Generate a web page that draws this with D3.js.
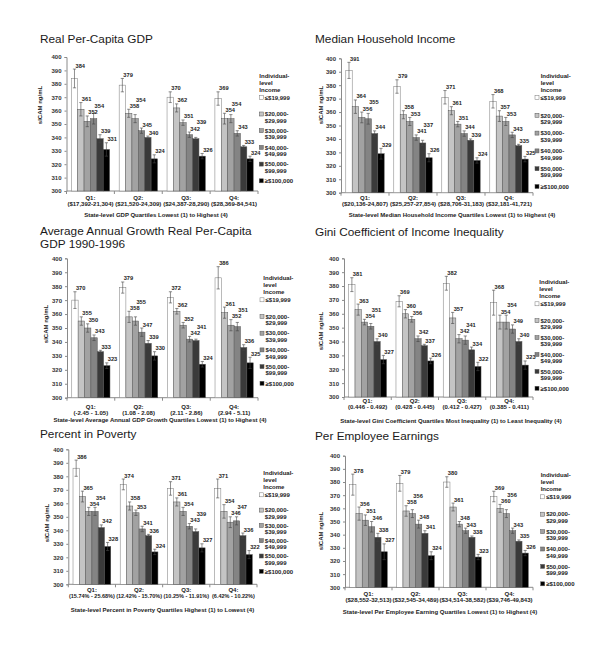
<!DOCTYPE html>
<html>
<head>
<meta charset="utf-8">
<script src="https://cdn.jsdelivr.net/npm/d3@7"></script>
<style>
  body { margin: 0; background: #fff; }
  svg { display: block; font-family: "Liberation Sans", Arial, sans-serif; }
</style>
</head>
<body>
<svg id="chart" width="600" height="649"></svg>
<script>
// shared labels
var quartiles = ['Q1:', 'Q2:', 'Q3:', 'Q4:'];
var incomeLabels = [['≤$19,999'], ['$20,000-', '$29,999'], ['$30,000-', '$39,999'],
                    ['$40,000-', '$49,999'], ['$50,000-', '$99,999'], ['≥$100,000']];
var legendHeader = ['Individual-', 'level', 'Income'];
var yTicks = [300, 310, 320, 330, 340, 350, 360, 370, 380, 390, 400];
var yTitle = 'sICAM ng/mL';

// Real per-capita GDP
var gdpRanges = ['($17,392-21,304)', '($21,520-24,309)', '($24,387-28,290)', '($28,369-84,541)'];
var gdpMeans = [[384, 361, 352, 354, 339, 331], [379, 358, 354, 345, 340, 324],
                [370, 362, 351, 342, 339, 326], [369, 354, 354, 343, 333, 324]];
var gdpErrors = [[7, 5, 4, 4, 3, 5], [5, 3, 3, 2, 1, 3], [4, 3, 2, 2, 1, 2], [5, 4, 3, 2, 1, 2]];

// Median household income
var incomeRanges = ['($20,136-24,807)', '($25,257-27,854)', '($28,706-31,183)', '($32,181-41,721)'];
var incomeMeans = [[391, 364, 356, 355, 344, 329], [379, 358, 353, 341, 337, 326],
                   [371, 361, 351, 344, 339, 324], [368, 357, 353, 343, 335, 325]];
var incomeErrors = [[6, 5, 4, 4, 2, 4], [5, 3, 3, 2, 2, 3], [5, 3, 2, 2, 1, 2], [5, 4, 3, 2, 1, 2]];

// Average annual growth
var growthRanges = ['(-2.45 - 1.05)', '(1.08 - 2.08)', '(2.11 - 2.86)', '(2.94 - 5.11)'];
var growthMeans = [[370, 355, 350, 343, 333, 323], [379, 358, 355, 347, 339, 330],
                   [372, 362, 352, 342, 341, 324], [386, 361, 352, 351, 336, 325]];
var growthErrors = [[6, 3, 3, 2, 1, 2], [4, 4, 3, 3, 2, 3], [4, 2, 2, 2, 1, 2], [8, 4, 4, 3, 2, 4]];

// Gini coefficient
var giniRanges = ['(0.446 - 0.492)', '(0.428 - 0.445)', '(0.412 - 0.427)', '(0.385 - 0.411)'];
var giniMeans = [[381, 363, 354, 351, 340, 327], [369, 360, 356, 342, 337, 326],
                 [382, 357, 342, 341, 334, 322], [368, 354, 354, 349, 340, 323]];
var giniErrors = [[5, 4, 2, 2, 2, 3], [4, 3, 2, 2, 1, 2], [5, 4, 3, 3, 2, 3], [9, 5, 5, 3, 2, 3]];

// Percent in poverty
var povertyRanges = ['(15.74% - 25.68%)', '(12.42% - 15.70%)', '(10.25% - 11.91%)', '(6.42% - 10.22%)'];
var povertyMeans = [[386, 365, 354, 354, 342, 328], [374, 358, 353, 341, 336, 324],
                    [371, 361, 354, 343, 339, 327], [371, 354, 346, 347, 336, 322]];
var povertyErrors = [[6, 4, 3, 3, 2, 3], [4, 3, 2, 2, 1, 2], [5, 3, 3, 2, 2, 3], [7, 5, 4, 3, 2, 3]];

// Per employee earnings
var earningsRanges = ['($28,552-32,513)', '($32,545-34,489)', '($34,514-38,582)', '($39,746-49,843)'];
var earningsMeans = [[378, 356, 351, 346, 338, 327], [379, 358, 356, 348, 341, 324],
                     [380, 361, 348, 343, 338, 323], [369, 360, 356, 343, 335, 326]];
var earningsErrors = [[8, 5, 4, 4, 3, 6], [6, 4, 3, 3, 2, 3], [4, 3, 2, 2, 1, 2], [4, 3, 3, 2, 1, 2]];

var barColors = ['#ffffff', '#c4c4c4', '#a2a2a2', '#848484', '#3a3a3a', '#000000'];

var panels = [
  {title: ['Real Per-Capita GDP'], tx: 40, ty: 42.7,
   ranges: gdpRanges, means: gdpMeans, errors: gdpErrors,
   xlabel: 'State-level GDP Quartiles Lowest (1) to Highest (4)',
   x0: 66.5, x1: 258, yTop: 57, yBot: 191, ylabX: 40, ylabY: 105, catSize: 6,
   catY: 199.5, xlabX: 156, xlabY: 217, legX: 259.3, legSwX: 259.3, legY: 99.5, legStep: 16.7},
  {title: ['Median Household Income'], tx: 315, ty: 43,
   ranges: incomeRanges, means: incomeMeans, errors: incomeErrors,
   xlabel: 'State-level Median Household Income Quartiles Lowest (1) to Highest (4)',
   x0: 341, x1: 533, yTop: 58.3, yBot: 192.7, ylabX: 321, ylabY: 105, catSize: 6,
   catY: 199.5, xlabX: 452, xlabY: 217, legX: 540.7, legSwX: 535, legY: 99.7, legStep: 17.8},
  {title: ['Average Annual Growth Real Per-Capita', 'GDP 1990-1996'], tx: 40, ty: 234.5,
   ranges: growthRanges, means: growthMeans, errors: growthErrors,
   xlabel: 'State-level Average Annual GDP Growth Quartiles Lowest (1) to Highest (4)',
   x0: 67, x1: 258, yTop: 258.3, yBot: 397.7, ylabX: 46, ylabY: 324, catSize: 6,
   catY: 409, xlabX: 160, xlabY: 422, legX: 263.3, legSwX: 260, legY: 302, legStep: 16.7},
  {title: ['Gini Coefficient of Income Inequality'], tx: 315, ty: 236,
   ranges: giniRanges, means: giniMeans, errors: giniErrors,
   xlabel: 'State-level Gini Coefficient Quartiles Most Inequality (1) to Least Inequality (4)',
   x0: 344, x1: 533, yTop: 258.3, yBot: 397, ylabX: 321, ylabY: 331, catSize: 6,
   catY: 403, xlabX: 451, xlabY: 423, legX: 539.3, legSwX: 535, legY: 306, legStep: 16.9},
  {title: ['Percent in Poverty'], tx: 40, ty: 438,
   ranges: povertyRanges, means: povertyMeans, errors: povertyErrors,
   xlabel: 'State-level Percent in Poverty Quartiles Highest (1) to Lowest (4)',
   x0: 68.3, x1: 257, yTop: 449.3, yBot: 584.3, ylabX: 46.7, ylabY: 523, catSize: 5.5,
   catY: 592, xlabX: 162.5, xlabY: 612, legX: 263.3, legSwX: 259.3, legY: 497, legStep: 15.3},
  {title: ['Per Employee Earnings'], tx: 315, ty: 439.5,
   ranges: earningsRanges, means: earningsMeans, errors: earningsErrors,
   xlabel: 'State-level Per Employee Earning Quartiles Lowest (1) to Highest (4)',
   x0: 345, x1: 533, yTop: 455.7, yBot: 587.3, ylabX: 320.7, ylabY: 531, catSize: 6,
   catY: 595.5, xlabX: 440, xlabY: 614, legX: 540.7, legSwX: 540.7, legY: 499, legStep: 17.4}
];

var svg = d3.select('#chart');
var small = 6;
var valSize = 5.7;

function drawPanel(p) {
  var g = svg.append('g');

  // title
  g.append('text')
      .attr('x', p.tx)
      .attr('y', p.ty)
      .attr('font-size', 11.8)
      .attr('fill', '#1a1a1a')
    .selectAll('tspan')
    .data(p.title)
    .enter().append('tspan')
      .attr('x', p.tx)
      .attr('dy', function(d, i) { return i === 0 ? 0 : 13.6; })
      .text(function(d) { return d; });

  // scales
  var y = d3.scaleLinear().domain([300, 400]).range([p.yBot, p.yTop]);
  var x = d3.scaleBand().domain(quartiles).range([p.x0, p.x1])
      .paddingInner(0.2).paddingOuter(0.1);
  var xi = d3.scaleBand().domain(d3.range(6)).range([0, x.bandwidth()]);

  // y axis
  var yAxis = g.append('g')
      .attr('transform', 'translate(' + p.x0 + ',0)')
      .call(d3.axisLeft(y).tickValues(yTicks).tickSize(2).tickPadding(3));
  yAxis.select('.domain').attr('stroke', '#8a8a8a');
  yAxis.selectAll('.tick line').attr('stroke', '#8a8a8a');
  yAxis.selectAll('.tick text')
      .attr('font-size', small)
      .attr('font-weight', 'bold')
      .attr('font-family', '"Liberation Sans", Arial, sans-serif')
      .attr('fill', '#333');

  // y title
  g.append('text')
      .attr('transform', 'translate(' + (p.ylabX + 2) + ',' + p.ylabY + ') rotate(-90)')
      .attr('text-anchor', 'middle')
      .attr('font-size', small)
      .attr('font-weight', 'bold')
      .attr('fill', '#222')
      .text(yTitle);

  // x axis line + boundary ticks
  var step = x.step();
  var bounds = d3.range(5).map(function(i) {
    return i < 4 ? x(quartiles[i]) - step * x.paddingOuter() : p.x1;
  });
  g.append('line')
      .attr('x1', p.x0).attr('x2', p.x1)
      .attr('y1', p.yBot).attr('y2', p.yBot)
      .attr('stroke', '#8a8a8a');
  g.selectAll('.xtick')
    .data(bounds)
    .enter().append('line')
      .attr('x1', function(d) { return d; })
      .attr('x2', function(d) { return d; })
      .attr('y1', p.yBot).attr('y2', p.yBot + 3)
      .attr('stroke', '#8a8a8a');

  // groups
  var groups = g.selectAll('.grp')
    .data(quartiles)
    .enter().append('g')
      .attr('transform', function(d) { return 'translate(' + x(d) + ',0)'; });

  groups.each(function(q, qi) {
    var gg = d3.select(this);
    var vals = p.means[qi];
    var errs = p.errors[qi];

    gg.selectAll('rect')
      .data(vals)
      .enter().append('rect')
        .attr('x', function(d, i) { return xi(i); })
        .attr('y', function(d) { return y(d); })
        .attr('width', xi.bandwidth())
        .attr('height', function(d) { return p.yBot - y(d); })
        .attr('fill', function(d, i) { return barColors[i]; })
        .attr('stroke', function(d, i) { return i === 0 ? '#777' : '#555'; })
        .attr('stroke-width', 0.5);

    // error bars
    vals.forEach(function(v, i) {
      var cx = xi(i) + xi.bandwidth() / 2;
      var e = errs[i];
      gg.append('line')
          .attr('x1', cx).attr('x2', cx)
          .attr('y1', y(v - e)).attr('y2', y(v + e))
          .attr('stroke', '#444').attr('stroke-width', 0.6);
      [v - e, v + e].forEach(function(t) {
        gg.append('line')
            .attr('x1', cx - 1.6).attr('x2', cx + 1.6)
            .attr('y1', y(t)).attr('y2', y(t))
            .attr('stroke', '#444').attr('stroke-width', 0.6);
      });
    });

    // value labels: placed above the error bar, nudged up when they collide
    var labelW = 9.6, labelH = 6.2;
    var placed = [];
    vals.forEach(function(v, i) {
      var lx = xi(i) + xi.bandwidth() / 2 + 1;
      var ly = y(v + errs[i]) - 1.5;
      placed.forEach(function(o) {
        if (lx < o.x + labelW && o.x < lx + labelW && Math.abs(ly - o.y) < labelH) {
          ly = o.y - labelH;
        }
      });
      placed.push({x: lx, y: ly});
      gg.append('text')
          .attr('x', lx).attr('y', ly)
          .attr('font-size', valSize)
          .attr('font-weight', 'bold')
          .attr('fill', '#222')
          .text(v);
    });

    // category labels
    var cx = x.bandwidth() / 2;
    gg.append('text')
        .attr('x', cx).attr('y', p.catY)
        .attr('text-anchor', 'middle')
        .attr('font-size', small).attr('font-weight', 'bold').attr('fill', '#222')
        .text(q);
    gg.append('text')
        .attr('x', cx).attr('y', p.catY + 6.3)
        .attr('text-anchor', 'middle')
        .attr('font-size', p.catSize).attr('font-weight', 'bold').attr('fill', '#222')
        .text(p.ranges[qi]);
  });

  // x title
  g.append('text')
      .attr('x', p.xlabX).attr('y', p.xlabY)
      .attr('text-anchor', 'middle')
      .attr('font-size', small).attr('font-weight', 'bold').attr('fill', '#222')
      .text(p.xlabel);

  // legend
  legendHeader.forEach(function(t, i) {
    g.append('text')
        .attr('x', p.legX).attr('y', p.legY - 22 + i * 7)
        .attr('font-size', small).attr('font-weight', 'bold').attr('fill', '#222')
        .text(t);
  });
  incomeLabels.forEach(function(lines, i) {
    var by = p.legY + i * p.legStep;
    g.append('rect')
        .attr('x', p.legSwX).attr('y', by - 4.2)
        .attr('width', 4).attr('height', 4)
        .attr('fill', barColors[i])
        .attr('stroke', i === 0 ? '#777' : '#555')
        .attr('stroke-width', 0.5);
    lines.forEach(function(t, j) {
      g.append('text')
          .attr('x', p.legSwX + 5.5).attr('y', by + j * 6.5)
          .attr('font-size', small).attr('font-weight', 'bold').attr('fill', '#222')
          .text(t);
    });
  });
}

panels.forEach(drawPanel);
</script>
</body>
</html>
